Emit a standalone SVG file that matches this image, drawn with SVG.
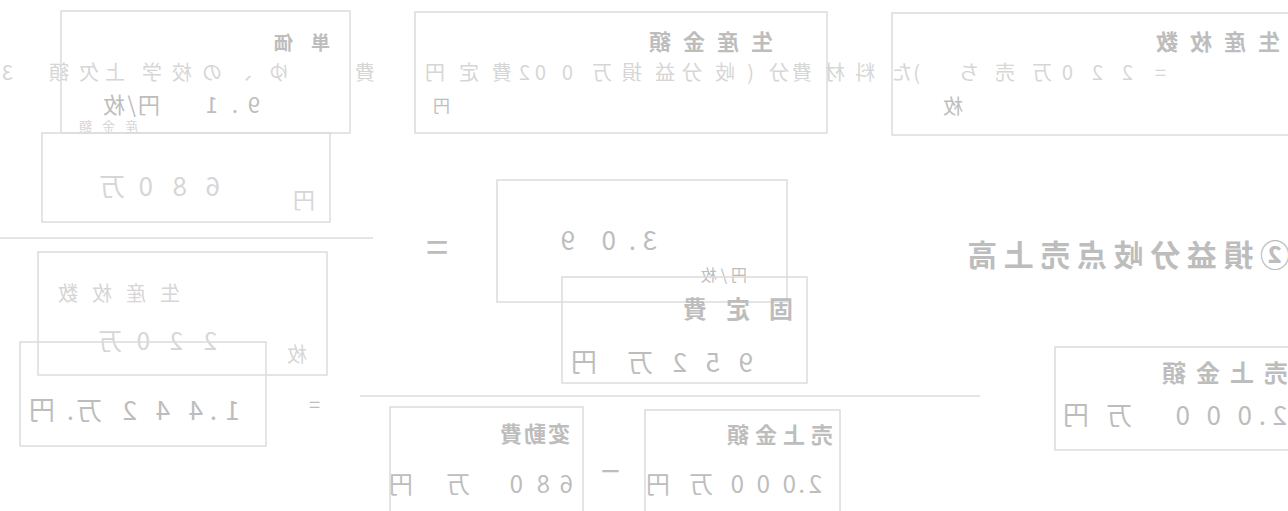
<svg xmlns="http://www.w3.org/2000/svg" width="1288" height="511" viewBox="0 0 1288 511">
<style>
.box{fill:none;stroke:#dcdcdc;stroke-width:1.5}
.ln{stroke:#dcdcdc;stroke-width:1.5;fill:none}
.t{font-family:"Noto Sans CJK JP","Noto Sans",sans-serif;fill:#bdbdbd}
.lb{font-weight:700}
.f{fill:#d6d6d6}
</style>
<rect width="1288" height="511" fill="#ffffff"/>

<g id="background-line">
<g transform="matrix(-1 0 0 1 1288 0)">
<text class="t f" font-size="20" y="80" x="122 155 185 215 236 273 309 368 376 413 443 476 499 534 553 586 613 646 676 715 742 758 776 809 843 913 999 1036 1066 1096 1126 1163 1189 1219 1275">=220万売ち)た料材費分(岐分益損万002費定円費ゆ、の校学上欠額3</text>
</g>
</g>

<g id="connectors">
<line class="ln" x1="0" y1="238" x2="373" y2="238"/>
<line class="ln" x1="360" y1="396" x2="980" y2="396"/>
<text class="t" font-size="40" x="426" y="262">=</text>
<text class="t" font-size="20" x="309" y="412">=</text>
<text class="t" font-size="34" x="601" y="484" font-family="Noto Sans">−</text>
</g>

<g id="node-unit-price">
<rect class="box" x="61" y="11" width="289" height="122"/>
<g transform="matrix(-1 0 0 1 1288 0)">
<text class="t lb" font-size="19" letter-spacing="18" x="958" y="50">単価</text>
<text class="t" font-size="22" y="113" x="1028 1050 1070">9.1</text>
<text class="t" font-size="22" y="113" x="1128 1152 1163">円/枚</text>
<text class="t f" font-size="13" letter-spacing="10" x="1150" y="131">産金額</text>
</g>
</g>

<g id="node-production-amount">
<rect class="box" x="415" y="12" width="412" height="121"/>
<g transform="matrix(-1 0 0 1 1288 0)">
<text class="t lb" font-size="22" letter-spacing="12" x="515" y="50">生産金額</text>
<text class="t" font-size="17" x="838" y="112">円</text>
</g>
</g>

<g id="node-production-count">
<rect class="box" x="892" y="13" width="420" height="122"/>
<g transform="matrix(-1 0 0 1 1288 0)">
<text class="t lb" font-size="22" letter-spacing="12" x="8" y="50">生産枚数</text>
<text class="t" font-size="20" x="325" y="114">枚</text>
</g>
</g>

<g id="node-variable-680">
<rect class="box" x="42" y="133" width="288" height="89"/>
<g transform="matrix(-1 0 0 1 1288 0)">
<text class="t f" font-size="26" y="196" x="1068 1101 1135 1163">680万</text>
<text class="t f" font-size="22" x="973" y="208">円</text>
</g>
</g>

<g id="node-count-220">
<rect class="box" x="38" y="252" width="289" height="123"/>
<g transform="matrix(-1 0 0 1 1288 0)">
<text class="t f" font-size="20" letter-spacing="14" x="1108" y="301">生産枚数</text>
<text class="t f" font-size="24" y="350" x="1071 1105 1138 1166">220万</text>
<text class="t f" font-size="20" x="981" y="362">枚</text>
</g>
</g>

<g id="node-result-1442">
<rect class="box" x="20" y="342" width="246" height="104"/>
<g transform="matrix(-1 0 0 1 1288 0)">
<text class="t" font-size="26" y="420" x="1048 1071 1085 1118 1151 1186 1214 1233">1.442万.円</text>
</g>
</g>

<g id="node-unit-variable">
<rect class="box" x="497" y="180" width="290" height="122"/>
<g transform="matrix(-1 0 0 1 1288 0)">
<text class="t" font-size="26" y="250" x="631 652 672 713">3.09</text>
<text class="t" font-size="16" letter-spacing="4" x="541" y="281">円/枚</text>
</g>
</g>

<g id="node-fixed-cost">
<rect class="box" x="562" y="277" width="245" height="106"/>
<g transform="matrix(-1 0 0 1 1288 0)">
<text class="t lb" font-size="24" letter-spacing="19" x="495" y="318">固定費</text>
<text class="t" font-size="26" y="372" x="535 568 601 635 691">952万円</text>
</g>
</g>

<g id="node-variable-cost">
<rect class="box" x="390" y="407" width="193" height="120"/>
<g transform="matrix(-1 0 0 1 1288 0)">
<text class="t lb" font-size="22" letter-spacing="2" x="718" y="442">変動費</text>
<text class="t" font-size="24" y="493" x="715 738 765 818 875">680万円</text>
</g>
</g>

<g id="node-sales-mid">
<rect class="box" x="645" y="410" width="195" height="117"/>
<g transform="matrix(-1 0 0 1 1288 0)">
<text class="t lb" font-size="22" letter-spacing="6" x="455" y="443">売上金額</text>
<text class="t" font-size="24" y="493" x="466 483 492 518 544 575 618">2.000万円</text>
</g>
</g>

<g id="heading">
<g transform="matrix(-1 0 0 1 1288 0)">
<text class="t lb" font-size="30" letter-spacing="6.6" x="-2" y="266">②損益分岐点売上高</text>
</g>
</g>

<g id="node-sales-right">
<rect class="box" x="1055" y="347" width="260" height="103"/>
<g transform="matrix(-1 0 0 1 1288 0)">
<text class="t lb" font-size="24" letter-spacing="10" x="0" y="382">売上金額</text>
<text class="t" font-size="26" y="425" x="1 22 36 67 98 156 199">2.000万円</text>
</g>
</g>
</svg>
